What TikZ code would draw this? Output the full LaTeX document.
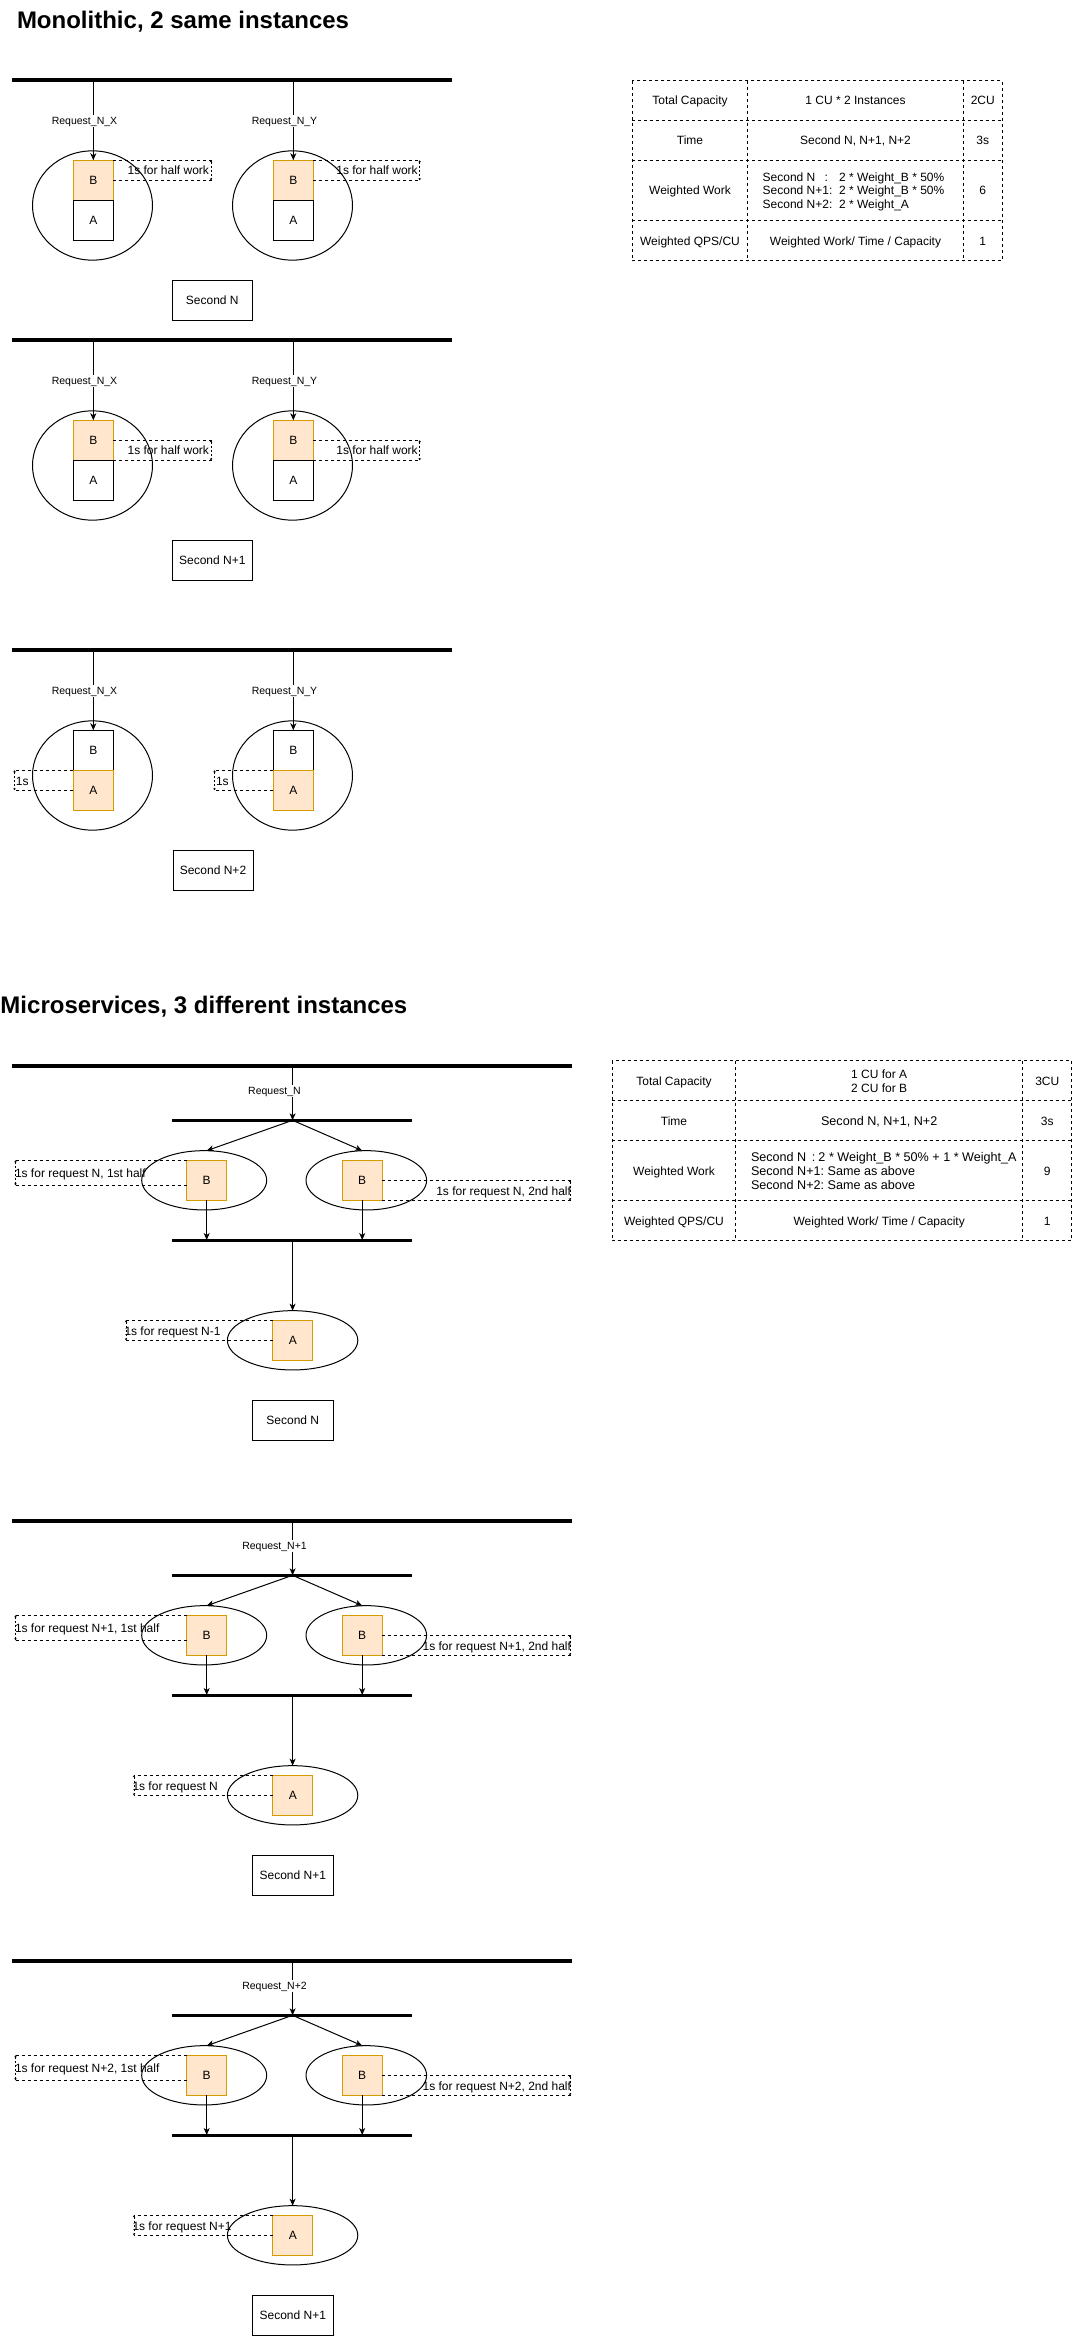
\documentclass[tikz,border=0pt]{standalone}
\usepackage{fontspec}
\setmainfont{Liberation Sans}
\usetikzlibrary{arrows.meta,shapes.geometric}
\definecolor{peachfill}{HTML}{FFE6CC}
\definecolor{peachline}{HTML}{D79B00}

% dimension marker: two dashed extension lines leaving a box edge and a short
% double-headed measuring line where they end
\newcommand\dimmark[4]{% upper start, lower start, end x, measuring-line x
  \coordinate (dmEnd) at (#3,0);
  \coordinate (dmBar) at (#4,0);
  \draw[dimline] (#1) -- (#1 -| dmEnd);
  \draw[dimline] (#2) -- (#2 -| dmEnd);
  \draw[dimmeasure] (#1 -| dmBar) -- (#2 -| dmBar);
}

% one second of the monolithic deployment: bus, two instances holding B over A
\newcommand\monopair[4]{% prefix, vertical offset, style of B, style of A
  \draw[thickbar] (12,{80.3+#2}) -- (452,{80.3+#2});
  \coordinate (#1tx) at (93.3,{80.3+#2});
  \coordinate (#1ty) at (293.3,{80.3+#2});
  \node[monoell] (#1ex) at (92.5,{205.5+#2}) {};
  \node[monoell] (#1ey) at (292.5,{205.5+#2}) {};
  \node[#3] (#1bx) at (93.3,{180.3+#2}) {B};
  \node[#4] (#1ax) at (93.3,{220.3+#2}) {A};
  \node[#3] (#1by) at (293.3,{180.3+#2}) {B};
  \node[#4] (#1ay) at (293.3,{220.3+#2}) {A};
  \draw[arr] (#1tx) -- (#1bx);
  \draw[arr] (#1ty) -- (#1by);
  \node[reqlabel] (#1lx) at (84.5,{121+#2}) {Request\_N\_X};
  \node[reqlabel] (#1ly) at (284.5,{121+#2}) {Request\_N\_Y};
}

% one second of the microservice deployment: bus, fork to two B services, join to A
\newcommand\microsec[7]{% prefix, offset, request, 1st half, 2nd half, A text, A dim end
  \draw[thickbar] (12,{1065.7+#2}) -- (572,{1065.7+#2});
  \draw[midbar] (172.3,{1120.3+#2}) -- (412.3,{1120.3+#2});
  \draw[midbar] (172.3,{1240+#2}) -- (412.3,{1240+#2});
  \coordinate (#1src) at (292.6,{1065.7+#2});
  \coordinate (#1fork) at (292.6,{1120.3+#2});
  \coordinate (#1join) at (292.6,{1240+#2});
  \node[microell, minimum width=125] (#1el) at (204.2,{1180.3+#2}) {};
  \node[microell, minimum width=120.6] (#1er) at (366.3,{1180.3+#2}) {};
  \node[microell, minimum width=130.4] (#1ea) at (292.6,{1340.3+#2}) {};
  \node[peachbox] (#1bl) at (206.7,{1180.3+#2}) {B};
  \node[peachbox] (#1br) at (362.2,{1180.3+#2}) {B};
  \node[peachbox] (#1a) at (292.8,{1340.3+#2}) {A};
  \draw[arr] (#1src) -- (#1fork);
  \draw[arr] (#1fork) -- (#1bl |- #1el.north);
  \draw[arr] (#1fork) -- (#1br |- #1er.north);
  \draw[arr] (#1bl.south) -- (#1bl |- #1join);
  \draw[arr] (#1br.south) -- (#1br |- #1join);
  \draw[arr] (#1join) -- (#1ea.north);
  \node[reqlabel] (#1req) at (274.5,{1091+#2}) {#3};
  \coordinate (#1blLow) at ([yshift=-25pt]#1bl.north west);
  \dimmark{#1bl.north west}{#1blLow}{13.5}{15.5}
  \node[dimtext, anchor=west] (#1d1) at (15,{1173.3+#2}) {#4};
  \dimmark{#1br.east}{#1br.south east}{572}{570}
  \node[dimtext, anchor=east] (#1d2) at (571,{1191+#2}) {#5};
  \dimmark{#1a.north west}{#1a.west}{#7}{#7}
  \node[dimtext, anchor=west] (#1d3) at ({#7-1.5},{1331+#2}) {#6};
}

\begin{document}
\begin{tikzpicture}[x=1pt,y=-1pt,
  every node/.style={inner sep=0pt, outer sep=0pt},
  txt/.style={font=\fontsize{12}{14}\selectfont, text height=8.6pt, text depth=0pt},
  bigtxt/.style={font=\fontsize{12.6}{14}\selectfont, text height=9pt, text depth=0pt},
  titletext/.style={font=\fontsize{24}{28}\selectfont\bfseries},
  reqlabel/.style={font=\fontsize{10.5}{12}\selectfont, text height=7.5pt, text depth=0pt,
    fill=white, inner xsep=0.5pt, inner ysep=2pt},
  dimtext/.style={txt},
  peachbox/.style={txt, draw=peachline, fill=peachfill, line width=1pt,
    minimum width=40pt, minimum height=40pt},
  plainbox/.style={txt, draw=black, fill=white, line width=1pt,
    minimum width=40pt, minimum height=40pt},
  secbox/.style={txt, draw=black, fill=white, line width=1pt,
    minimum width=80pt, minimum height=40pt},
  monoell/.style={ellipse, draw=black, fill=white, line width=1pt,
    minimum width=120pt, minimum height=109.3pt},
  microell/.style={ellipse, draw=black, fill=white, line width=1pt,
    minimum height=59.3pt},
  thickbar/.style={line width=4pt},
  midbar/.style={line width=3pt},
  arr/.style={line width=1pt, -{Stealth[length=7pt,width=6pt,inset=2pt]}},
  dimline/.style={line width=1pt, dash pattern=on 3pt off 3pt},
  dimmeasure/.style={line width=0.6pt, dash pattern=on 2pt off 2pt,
    {Stealth[length=2pt,width=2.5pt]}-{Stealth[length=2pt,width=2.5pt]}},
  gridline/.style={line width=1pt, dash pattern=on 3pt off 3pt},
]
\fill[white] (0,0) rectangle (1073,2336);
\useasboundingbox (0,0) rectangle (1073,2336);

% ---------------- monolithic ----------------
\node[titletext, anchor=base west] (monotitle) at (17,29) {Monolithic, 2 same instances};

\monopair{ma}{0}{peachbox}{plainbox}
\dimmark{mabx.north east}{mabx.east}{212}{211}
\node[dimtext, anchor=east] (mad1) at (209,170.5) {1s for half work};
\dimmark{maby.north east}{maby.east}{420.7}{419.7}
\node[dimtext, anchor=east] (mad2) at (417.7,170.5) {1s for half work};
\node[secbox] (masec) at (212.3,300.3) {Second N};

\monopair{mb}{260}{peachbox}{plainbox}
\dimmark{mbbx.east}{mbbx.south east}{212}{211}
\node[dimtext, anchor=east] (mbd1) at (209,450) {1s for half work};
\dimmark{mbby.east}{mbby.south east}{420.7}{419.7}
\node[dimtext, anchor=east] (mbd2) at (417.7,450) {1s for half work};
\node[secbox] (mbsec) at (212.3,560.3) {Second N+1};

\monopair{mc}{570}{plainbox}{peachbox}
\dimmark{mcax.north west}{mcax.west}{14.5}{14.5}
\node[dimtext, anchor=west] (mcd1) at (16,781.3) {1s};
\dimmark{mcay.north west}{mcay.west}{214.5}{214.5}
\node[dimtext, anchor=west] (mcd2) at (216,781.3) {1s};
\node[secbox] (mcsec) at (213,870.3) {Second N+2};

% capacity table, monolithic
\draw[gridline] (632.3,80.7) rectangle (1002.3,260.7);
\draw[gridline] (747.7,80.7) -- (747.7,260.7);
\draw[gridline] (963.3,80.7) -- (963.3,260.7);
\draw[gridline] (632.3,120.7) -- (1002.3,120.7);
\draw[gridline] (632.3,160.7) -- (1002.3,160.7);
\draw[gridline] (632.3,220.7) -- (1002.3,220.7);
\node[txt] (ta11) at (690,100.7) {Total Capacity};
\node[txt] (ta12) at (855.5,100.7) {1 CU * 2 Instances};
\node[txt] (ta13) at (982.8,100.7) {2CU};
\node[txt] (ta21) at (690,140.7) {Time};
\node[txt] (ta22) at (855.5,140.7) {Second N, N+1, N+2};
\node[txt] (ta23) at (982.8,140.7) {3s};
\node[txt] (ta31) at (690,190.7) {Weighted Work};
\node[txt, anchor=west] (ta32a) at (762.7,177.3) {\makebox[62pt][l]{Second N}:\hspace{11.1pt}2 * Weight\_B * 50\%};
\node[txt, anchor=west] (ta32b) at (762.7,190.7) {Second N+1:\hspace{6.7pt}2 * Weight\_B * 50\%};
\node[txt, anchor=west] (ta32c) at (762.7,204.3) {Second N+2:\hspace{6.7pt}2 * Weight\_A};
\node[txt] (ta33) at (982.8,190.7) {6};
\node[txt] (ta41) at (690,240.7) {Weighted QPS/CU};
\node[txt] (ta42) at (855.5,240.7) {Weighted Work/ Time / Capacity};
\node[txt] (ta43) at (982.8,240.7) {1};

% ---------------- microservices ----------------
\node[titletext, anchor=base west] (microtitle) at (0.5,1013.3) {Microservices, 3 different instances};

\microsec{ua}{0}{Request\_N}{1s for request N, 1st half}{1s for request N, 2nd half}{1s for request N-1}{126}
\node[secbox, minimum width=80.4pt] (uasec) at (292.8,1420.3) {Second N};

\microsec{ub}{455}{Request\_N+1}{1s for request N+1, 1st half}{1s for request N+1, 2nd half}{1s for request N}{134}
\node[secbox, minimum width=80.4pt] (ubsec) at (292.8,1875.5) {Second N+1};

\microsec{uc}{895}{Request\_N+2}{1s for request N+2, 1st half}{1s for request N+2, 2nd half}{1s for request N+1}{134}
\node[secbox, minimum width=80.4pt] (ucsec) at (292.8,2315.5) {Second N+1};

% capacity table, microservices
\draw[gridline] (612.3,1060.7) rectangle (1071.5,1240.7);
\draw[gridline] (735.7,1060.7) -- (735.7,1240.7);
\draw[gridline] (1022.7,1060.7) -- (1022.7,1240.7);
\draw[gridline] (612.3,1100.7) -- (1071.5,1100.7);
\draw[gridline] (612.3,1140.7) -- (1071.5,1140.7);
\draw[gridline] (612.3,1200.7) -- (1071.5,1200.7);
\node[txt] (tb11) at (674,1080.7) {Total Capacity};
\node[txt] (tb12a) at (879.2,1074.5) {1 CU for A};
\node[txt] (tb12b) at (879.2,1088.3) {2 CU for B};
\node[txt] (tb13) at (1047.3,1080.7) {3CU};
\node[txt] (tb21) at (674,1120.7) {Time};
\node[bigtxt] (tb22) at (879.2,1120.7) {Second N, N+1, N+2};
\node[txt] (tb23) at (1047.3,1120.7) {3s};
\node[txt] (tb31) at (674,1170.7) {Weighted Work};
\node[bigtxt, anchor=west] (tb32a) at (751,1157.3) {\makebox[61pt][l]{Second N}:\hspace{3pt}2 * Weight\_B * 50\% + 1 * Weight\_A};
\node[bigtxt, anchor=west] (tb32b) at (751,1170.9) {Second N+1:\hspace{3.5pt}Same as above};
\node[bigtxt, anchor=west] (tb32c) at (751,1184.5) {Second N+2:\hspace{3.5pt}Same as above};
\node[txt] (tb33) at (1047.3,1170.7) {9};
\node[txt] (tb41) at (674,1220.7) {Weighted QPS/CU};
\node[txt] (tb42) at (879.2,1220.7) {Weighted Work/ Time / Capacity};
\node[txt] (tb43) at (1047.3,1220.7) {1};
\end{tikzpicture}
\end{document}
